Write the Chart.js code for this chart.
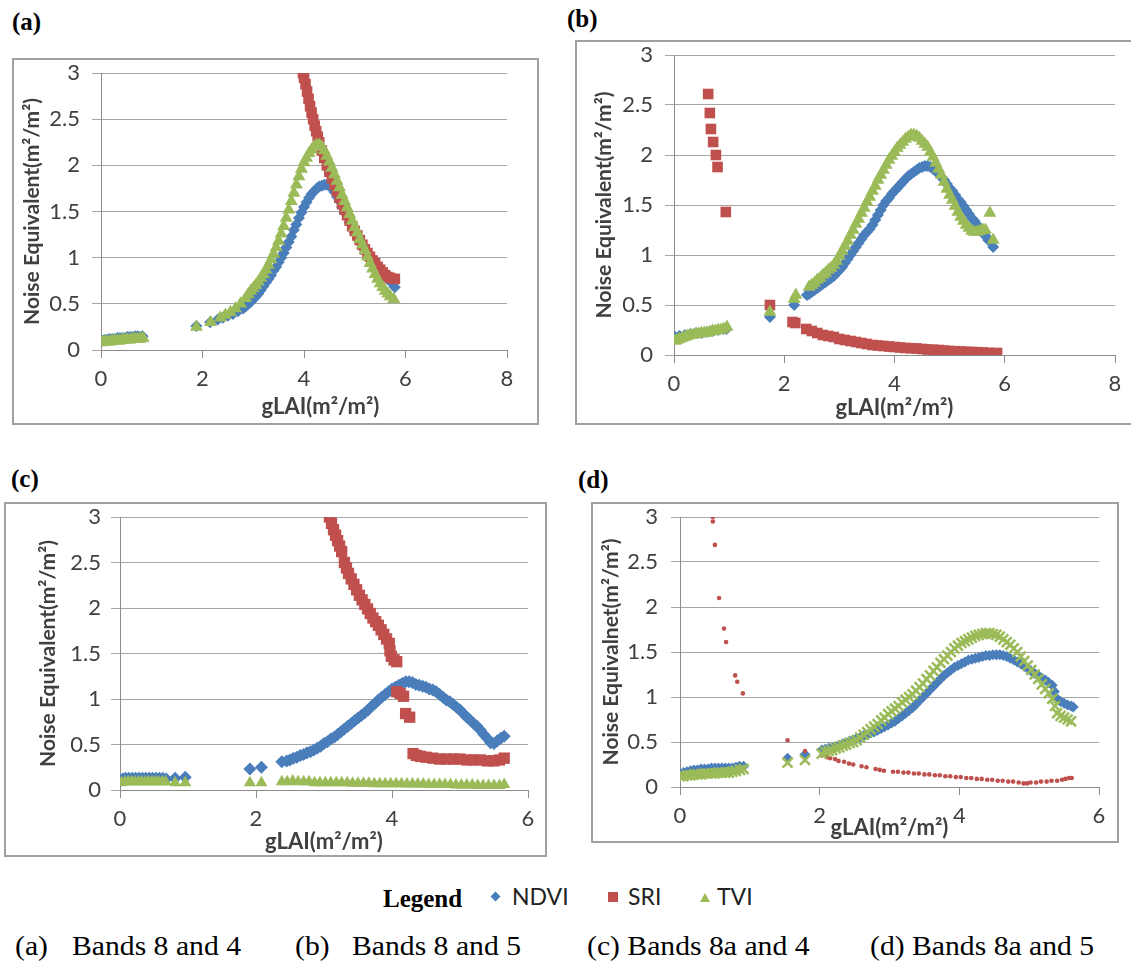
<!DOCTYPE html>
<html>
<head>
<meta charset="utf-8">
<script src="https://cdn.jsdelivr.net/npm/chart.js@4.4.1/dist/chart.umd.min.js"></script>
<style>
  body { margin: 0; width: 1131px; height: 964px; overflow: hidden; background: #fff; position: relative; }
  .frame { position: absolute; box-sizing: border-box; border: 2px solid #a0a0a0; background: #fff; }
  .frame canvas { position: absolute; left: 0; top: 0; }
  .plab { position: absolute; font: bold 25px "Liberation Serif", serif; line-height: 1; color: #000; }
  .cap { position: absolute; font: 28px "Liberation Serif", serif; line-height: 1; color: #000; white-space: pre; transform: scaleX(1.06); transform-origin: 0 0; }
  .leg { position: absolute; font: 23px Lato, sans-serif; line-height: 1; color: #222; }
  .legt { position: absolute; font: bold 25px "Liberation Serif", serif; line-height: 1; color: #000; }
  .mk { position: absolute; }
</style>
</head>
<body>

<div class="plab" style="left:12px;top:9px">(a)</div>
<div class="plab" style="left:567px;top:6px">(b)</div>
<div class="plab" style="left:11px;top:466px">(c)</div>
<div class="plab" style="left:578px;top:467px">(d)</div>

<div class="frame" style="left:12px;top:58px;width:527px;height:367px"><canvas id="chartA" width="523" height="363"></canvas></div>
<div class="frame" style="left:575px;top:40px;width:580px;height:385px"><canvas id="chartB" width="576" height="381"></canvas></div>
<div class="frame" style="left:4px;top:502px;width:543px;height:355px"><canvas id="chartC" width="539" height="351"></canvas></div>
<div class="frame" style="left:591px;top:502px;width:528px;height:341px"><canvas id="chartD" width="524" height="337"></canvas></div>

<!-- shared legend -->
<div class="legt" style="left:383px;top:886px">Legend</div>
<div class="mk" style="left:492px;top:893px;width:7px;height:7px;background:#4a7ebb;transform:rotate(45deg)"></div>
<div class="leg" style="left:512px;top:885px">NDVI</div>
<div class="mk" style="left:608px;top:892px;width:10px;height:10px;background:#c0504d"></div>
<div class="leg" style="left:628px;top:885px">SRI</div>
<div class="mk" style="left:700px;top:893px;width:0;height:0;border-left:5px solid transparent;border-right:5px solid transparent;border-bottom:9px solid #9bbb59"></div>
<div class="leg" style="left:717px;top:885px">TVI</div>

<div class="cap" style="left:15px;top:932px">(a)</div>
<div class="cap" style="left:72px;top:932px">Bands 8 and 4</div>
<div class="cap" style="left:295px;top:932px">(b)</div>
<div class="cap" style="left:352px;top:932px">Bands 8 and 5</div>
<div class="cap" style="left:587px;top:932px">(c) Bands 8a and 4</div>
<div class="cap" style="left:870px;top:932px">(d) Bands 8a and 5</div>

<script>
// ---- data: [gLAI, noise equivalent] ----
// (a) Bands 8 and 4
const ndviA = [
  [0.02,0.10],[0.07,0.11],[0.12,0.11],[0.17,0.12],[0.22,0.12],[0.27,0.12],[0.32,0.13],[0.37,0.13],[0.42,0.13],[0.47,0.13],[0.52,0.14],[0.57,0.14],[0.62,0.14],[0.67,0.15],[0.72,0.15],[0.77,0.14],[0.82,0.15],
  [1.88,0.26],[2.15,0.30],[2.3,0.33],[2.4,0.35],[2.5,0.37],[2.6,0.39],[2.7,0.42],[2.8,0.45],[2.85,0.47],[2.9,0.50],[2.95,0.52],[3.0,0.55],[3.05,0.58],[3.1,0.61],[3.15,0.65],[3.2,0.69],[3.25,0.73],[3.3,0.77],[3.35,0.81],[3.4,0.86],[3.45,0.90],[3.5,0.95],[3.55,1.00],[3.6,1.05],[3.65,1.11],[3.7,1.17],[3.75,1.23],[3.8,1.30],[3.85,1.36],[3.9,1.43],[3.95,1.49],[4.0,1.55],[4.05,1.60],[4.1,1.65],[4.15,1.69],[4.2,1.72],[4.25,1.75],[4.3,1.77],[4.35,1.78],[4.4,1.79],[4.45,1.79],[4.5,1.78],[4.55,1.75],[4.6,1.71],[4.65,1.66],[4.7,1.61],[4.75,1.55],[4.8,1.49],[4.9,1.38],[5.0,1.27],[5.1,1.17],[5.2,1.08],[5.3,1.00],[5.4,0.93],[5.5,0.86],[5.6,0.80],[5.7,0.74],[5.79,0.68]
];
const sriA = [
  [3.98,3.00],[4.0,2.95],[4.03,2.88],[4.06,2.80],[4.09,2.72],[4.12,2.64],[4.15,2.57],[4.18,2.50],[4.21,2.43],[4.24,2.37],[4.27,2.31],[4.3,2.25],[4.35,2.16],[4.4,2.08],[4.45,2.00],[4.5,1.93],[4.55,1.86],[4.6,1.79],[4.65,1.72],[4.7,1.65],[4.75,1.58],[4.8,1.52],[4.85,1.46],[4.9,1.40],[4.95,1.34],[5.0,1.29],[5.05,1.24],[5.1,1.19],[5.15,1.14],[5.2,1.09],[5.25,1.05],[5.3,1.01],[5.35,0.97],[5.4,0.94],[5.45,0.90],[5.5,0.87],[5.55,0.84],[5.6,0.81],[5.65,0.79],[5.7,0.78],[5.79,0.77]
];
const tviA = [
  [0.02,0.08],[0.07,0.09],[0.12,0.09],[0.17,0.09],[0.22,0.10],[0.27,0.10],[0.32,0.10],[0.37,0.10],[0.42,0.11],[0.47,0.11],[0.52,0.11],[0.57,0.11],[0.62,0.12],[0.67,0.12],[0.72,0.12],[0.77,0.12],[0.83,0.13],
  [1.88,0.25],[2.16,0.30],[2.35,0.35],[2.45,0.38],[2.55,0.41],[2.65,0.45],[2.75,0.50],[2.85,0.56],[2.9,0.60],[2.95,0.64],[3.0,0.67],[3.05,0.70],[3.1,0.74],[3.15,0.78],[3.2,0.82],[3.25,0.87],[3.3,0.92],[3.35,0.98],[3.4,1.04],[3.45,1.11],[3.5,1.18],[3.55,1.26],[3.6,1.34],[3.65,1.43],[3.7,1.52],[3.75,1.61],[3.8,1.70],[3.85,1.79],[3.9,1.88],[3.95,1.96],[4.0,2.03],[4.05,2.08],[4.1,2.13],[4.15,2.17],[4.2,2.20],[4.25,2.22],[4.3,2.22],[4.35,2.20],[4.4,2.16],[4.45,2.10],[4.5,2.04],[4.55,1.97],[4.6,1.90],[4.65,1.83],[4.7,1.76],[4.75,1.68],[4.8,1.61],[4.85,1.54],[4.9,1.47],[4.95,1.40],[5.0,1.33],[5.05,1.27],[5.1,1.20],[5.15,1.14],[5.2,1.08],[5.25,1.01],[5.3,0.94],[5.35,0.88],[5.4,0.82],[5.45,0.77],[5.5,0.72],[5.55,0.68],[5.6,0.64],[5.65,0.61],[5.7,0.58],[5.77,0.55]
];

// (b) Bands 8 and 5
const ndviB = [
  [0.02,0.18],[0.1,0.19],[0.2,0.20],[0.3,0.21],[0.4,0.22],[0.5,0.22],[0.6,0.23],[0.7,0.24],[0.8,0.25],[0.9,0.26],[0.95,0.26],
  [1.74,0.38],[2.18,0.50],
  [2.41,0.60],[2.45,0.61],[2.5,0.63],[2.55,0.65],[2.6,0.67],[2.65,0.69],[2.7,0.71],[2.75,0.73],[2.8,0.75],[2.85,0.77],[2.9,0.79],[2.95,0.82],[3.0,0.85],[3.05,0.88],[3.1,0.92],[3.15,0.96],[3.2,1.00],[3.25,1.04],[3.3,1.08],[3.35,1.12],[3.4,1.16],[3.45,1.20],[3.5,1.23],[3.55,1.26],[3.6,1.30],[3.65,1.35],[3.7,1.40],[3.75,1.45],[3.8,1.50],[3.85,1.54],[3.9,1.57],[3.95,1.61],[4.0,1.64],[4.05,1.67],[4.1,1.70],[4.15,1.73],[4.2,1.76],[4.25,1.79],[4.3,1.81],[4.35,1.83],[4.4,1.85],[4.45,1.87],[4.5,1.88],[4.55,1.89],[4.6,1.89],[4.65,1.88],[4.7,1.86],[4.75,1.84],[4.8,1.81],[4.85,1.78],[4.9,1.75],[4.95,1.71],[5.0,1.67],[5.05,1.64],[5.1,1.60],[5.15,1.56],[5.2,1.53],[5.25,1.49],[5.3,1.45],[5.35,1.41],[5.4,1.37],[5.45,1.34],[5.5,1.30],[5.55,1.27],[5.6,1.23],[5.65,1.19],[5.7,1.15],[5.79,1.08]
];
const sriB = [
  [0.62,2.61],[0.65,2.42],[0.67,2.26],[0.71,2.13],[0.76,2.00],[0.79,1.88],[0.94,1.43],[1.74,0.50],[2.15,0.33],[2.2,0.32],
  [2.4,0.26],[2.5,0.24],[2.6,0.22],[2.7,0.20],[2.8,0.19],[2.9,0.18],[3.0,0.16],[3.1,0.15],[3.2,0.14],[3.3,0.13],[3.4,0.12],[3.5,0.11],[3.6,0.10],[3.7,0.095],[3.8,0.09],[3.9,0.085],[4.0,0.08],[4.1,0.075],[4.2,0.07],[4.3,0.068],[4.4,0.065],[4.5,0.06],[4.6,0.055],[4.7,0.052],[4.8,0.05],[4.9,0.045],[5.0,0.04],[5.1,0.038],[5.2,0.035],[5.3,0.032],[5.4,0.03],[5.5,0.028],[5.6,0.025],[5.7,0.022],[5.86,0.02]
];
const tviB = [
  [0.02,0.14],[0.06,0.15],[0.1,0.16],[0.15,0.17],[0.2,0.18],[0.25,0.19],[0.3,0.20],[0.35,0.20],[0.4,0.21],[0.45,0.21],[0.5,0.22],[0.55,0.22],[0.6,0.22],[0.65,0.23],[0.7,0.24],[0.75,0.24],[0.8,0.25],[0.85,0.25],[0.9,0.26],[0.96,0.28],
  [1.74,0.43],[2.18,0.56],[2.21,0.60],
  [2.45,0.68],[2.5,0.70],[2.55,0.72],[2.6,0.75],[2.65,0.77],[2.7,0.80],[2.75,0.82],[2.8,0.85],[2.85,0.87],[2.9,0.90],[2.95,0.94],[3.0,0.99],[3.05,1.04],[3.1,1.09],[3.15,1.14],[3.2,1.20],[3.25,1.25],[3.3,1.31],[3.35,1.36],[3.4,1.42],[3.45,1.47],[3.5,1.53],[3.55,1.58],[3.6,1.64],[3.65,1.69],[3.7,1.75],[3.75,1.80],[3.8,1.85],[3.85,1.90],[3.9,1.95],[3.95,1.99],[4.0,2.03],[4.05,2.07],[4.1,2.10],[4.15,2.13],[4.2,2.16],[4.25,2.18],[4.3,2.20],[4.35,2.20],[4.4,2.19],[4.45,2.17],[4.5,2.14],[4.55,2.11],[4.6,2.08],[4.65,2.03],[4.7,1.98],[4.75,1.92],[4.8,1.86],[4.85,1.80],[4.9,1.73],[4.95,1.66],[5.0,1.60],[5.05,1.55],[5.1,1.49],[5.15,1.43],[5.2,1.38],[5.25,1.34],[5.3,1.30],[5.35,1.27],[5.4,1.24],[5.45,1.23],[5.5,1.23],[5.55,1.24],[5.6,1.25],[5.65,1.25],[5.73,1.42],[5.79,1.15]
];

// (c) Bands 8a and 4
const ndviC = [
  [0.0,0.10],[0.04,0.12],[0.08,0.13],[0.13,0.13],[0.18,0.13],[0.23,0.13],[0.28,0.13],[0.33,0.13],[0.38,0.13],[0.43,0.13],[0.48,0.13],[0.53,0.13],[0.58,0.13],[0.63,0.13],[0.68,0.12],[0.81,0.13],[0.96,0.14],
  [1.91,0.23],[2.08,0.25],
  [2.38,0.31],[2.45,0.32],[2.5,0.33],[2.55,0.35],[2.6,0.36],[2.65,0.38],[2.7,0.39],[2.75,0.41],[2.8,0.42],[2.85,0.44],[2.9,0.46],[2.95,0.48],[3.0,0.51],[3.05,0.53],[3.1,0.56],[3.15,0.58],[3.2,0.61],[3.25,0.64],[3.3,0.67],[3.35,0.70],[3.4,0.73],[3.45,0.76],[3.5,0.79],[3.55,0.82],[3.6,0.85],[3.65,0.88],[3.7,0.92],[3.75,0.95],[3.8,0.99],[3.85,1.02],[3.9,1.05],[3.95,1.08],[4.0,1.11],[4.05,1.13],[4.1,1.15],[4.15,1.17],[4.2,1.19],[4.25,1.19],[4.3,1.18],[4.35,1.16],[4.4,1.15],[4.45,1.14],[4.5,1.13],[4.55,1.11],[4.6,1.10],[4.65,1.08],[4.7,1.05],[4.75,1.02],[4.8,0.99],[4.85,0.97],[4.9,0.94],[4.95,0.91],[5.0,0.88],[5.05,0.84],[5.1,0.80],[5.15,0.77],[5.2,0.73],[5.25,0.70],[5.3,0.66],[5.35,0.61],[5.4,0.57],[5.45,0.52],[5.5,0.51],[5.55,0.54],[5.6,0.57],[5.65,0.59]
];
const sriC = [
  [3.08,3.00],[3.11,2.93],[3.14,2.86],[3.17,2.80],[3.2,2.74],[3.23,2.68],[3.26,2.62],[3.3,2.50],[3.33,2.44],[3.36,2.38],[3.4,2.32],[3.44,2.26],[3.48,2.20],[3.52,2.14],[3.56,2.09],[3.6,2.04],[3.64,1.99],[3.68,1.94],[3.72,1.89],[3.76,1.85],[3.8,1.81],[3.84,1.76],[3.88,1.71],[3.92,1.66],[3.96,1.61],[3.97,1.53],[3.99,1.47],[4.03,1.43],[4.07,1.41],
  [4.07,1.08],[4.12,1.06],[4.17,1.03],[4.2,0.84],[4.26,0.80],
  [4.31,0.40],[4.36,0.38],[4.42,0.37],[4.5,0.36],[4.6,0.35],[4.7,0.34],[4.8,0.34],[4.9,0.34],[5.0,0.34],[5.1,0.33],[5.2,0.33],[5.3,0.33],[5.4,0.32],[5.5,0.32],[5.58,0.33],[5.65,0.35]
];
const tviC = [
  [0.02,0.08],[0.07,0.09],[0.12,0.09],[0.17,0.09],[0.22,0.09],[0.27,0.09],[0.32,0.09],[0.37,0.09],[0.42,0.09],[0.47,0.09],[0.52,0.09],[0.57,0.09],[0.62,0.09],[0.67,0.09],[0.81,0.08],[0.96,0.08],[1.91,0.08],[2.08,0.08],
  [2.38,0.09],[2.46,0.09],[2.54,0.10],[2.62,0.09],[2.7,0.09],[2.78,0.09],[2.86,0.08],[2.94,0.08],[3.02,0.08],[3.1,0.08],[3.18,0.08],[3.26,0.08],[3.34,0.08],[3.42,0.075],[3.5,0.075],[3.58,0.075],[3.66,0.075],[3.74,0.07],[3.82,0.07],[3.9,0.07],[3.98,0.07],[4.06,0.07],[4.14,0.07],[4.22,0.065],[4.3,0.065],[4.38,0.065],[4.46,0.065],[4.54,0.06],[4.62,0.06],[4.7,0.06],[4.78,0.06],[4.86,0.06],[4.94,0.055],[5.02,0.055],[5.1,0.055],[5.18,0.055],[5.26,0.05],[5.34,0.05],[5.42,0.05],[5.5,0.05],[5.58,0.05],[5.65,0.06]
];

// (d) Bands 8a and 5
const ndviD = [
  [0.0,0.15],[0.05,0.16],[0.1,0.17],[0.15,0.18],[0.2,0.19],[0.25,0.19],[0.3,0.20],[0.35,0.20],[0.4,0.20],[0.45,0.21],[0.5,0.21],[0.55,0.21],[0.6,0.21],[0.65,0.21],[0.7,0.21],[0.75,0.21],[0.8,0.22],[0.85,0.23],[0.91,0.23],
  [1.54,0.32],[1.79,0.36],
  [2.03,0.41],[2.08,0.42],[2.13,0.43],[2.18,0.44],[2.23,0.45],[2.28,0.46],[2.33,0.48],[2.38,0.49],[2.43,0.51],[2.48,0.52],[2.53,0.54],[2.58,0.55],[2.63,0.57],[2.68,0.58],[2.73,0.60],[2.78,0.61],[2.83,0.63],[2.88,0.65],[2.93,0.67],[2.98,0.69],[3.03,0.71],[3.08,0.73],[3.13,0.76],[3.18,0.79],[3.23,0.82],[3.28,0.85],[3.33,0.88],[3.38,0.92],[3.43,0.96],[3.48,1.00],[3.53,1.04],[3.58,1.08],[3.63,1.12],[3.68,1.16],[3.73,1.20],[3.78,1.24],[3.83,1.27],[3.88,1.30],[3.93,1.33],[3.98,1.35],[4.03,1.37],[4.08,1.39],[4.13,1.41],[4.18,1.42],[4.23,1.43],[4.28,1.44],[4.33,1.45],[4.38,1.46],[4.43,1.46],[4.48,1.47],[4.53,1.47],[4.58,1.47],[4.63,1.46],[4.68,1.45],[4.73,1.43],[4.78,1.41],[4.83,1.39],[4.88,1.37],[4.93,1.34],[4.98,1.32],[5.03,1.29],[5.08,1.26],[5.13,1.24],[5.18,1.21],[5.23,1.19],[5.28,1.16],[5.33,1.13],[5.36,1.06],[5.4,0.98],[5.45,0.95],[5.5,0.93],[5.55,0.91],[5.6,0.90],[5.63,0.89]
];
const sriD = [
  [0.47,3.00],[0.47,2.95],[0.5,2.69],[0.56,2.10],[0.63,1.76],[0.66,1.61],[0.79,1.24],[0.82,1.17],[0.9,1.04],[1.54,0.52],[1.79,0.40],
  [2.03,0.35],[2.1,0.33],[2.15,0.32],[2.22,0.31],[2.27,0.29],[2.35,0.28],[2.42,0.26],[2.48,0.25],[2.6,0.23],[2.67,0.22],[2.8,0.20],[2.86,0.19],[2.92,0.18],[3.05,0.17],[3.12,0.17],[3.2,0.16],[3.27,0.16],[3.35,0.15],[3.42,0.15],[3.5,0.14],[3.57,0.14],[3.65,0.13],[3.72,0.13],[3.8,0.12],[3.87,0.12],[3.95,0.11],[4.02,0.11],[4.1,0.10],[4.17,0.10],[4.25,0.09],[4.32,0.09],[4.4,0.08],[4.47,0.08],[4.55,0.07],[4.62,0.07],[4.7,0.06],[4.77,0.06],[4.85,0.05],[4.92,0.04],[4.97,0.04],[5.02,0.05],[5.1,0.05],[5.17,0.06],[5.25,0.06],[5.32,0.07],[5.4,0.07],[5.47,0.08],[5.52,0.09],[5.57,0.10],[5.61,0.10]
];
const tviD = [
  [0.0,0.12],[0.05,0.12],[0.1,0.13],[0.15,0.13],[0.2,0.14],[0.25,0.14],[0.3,0.14],[0.35,0.15],[0.4,0.15],[0.45,0.15],[0.5,0.15],[0.55,0.16],[0.6,0.16],[0.65,0.16],[0.7,0.16],[0.75,0.17],[0.8,0.18],[0.86,0.19],[0.91,0.20],
  [1.54,0.27],[1.79,0.30],
  [2.03,0.37],[2.08,0.39],[2.13,0.40],[2.18,0.41],[2.23,0.43],[2.28,0.44],[2.33,0.46],[2.38,0.47],[2.43,0.49],[2.48,0.50],[2.53,0.52],[2.58,0.55],[2.63,0.58],[2.68,0.61],[2.73,0.64],[2.78,0.67],[2.83,0.70],[2.88,0.74],[2.93,0.77],[2.98,0.81],[3.03,0.84],[3.08,0.87],[3.13,0.90],[3.18,0.94],[3.23,0.97],[3.28,1.00],[3.33,1.03],[3.38,1.07],[3.43,1.11],[3.48,1.15],[3.53,1.20],[3.58,1.24],[3.63,1.29],[3.68,1.33],[3.73,1.38],[3.78,1.42],[3.83,1.46],[3.88,1.50],[3.93,1.54],[3.98,1.57],[4.03,1.60],[4.08,1.62],[4.13,1.64],[4.18,1.66],[4.23,1.68],[4.28,1.69],[4.33,1.70],[4.38,1.71],[4.43,1.71],[4.48,1.70],[4.53,1.69],[4.58,1.67],[4.63,1.64],[4.68,1.61],[4.73,1.58],[4.78,1.54],[4.83,1.50],[4.88,1.45],[4.93,1.40],[4.98,1.35],[5.03,1.30],[5.08,1.25],[5.13,1.20],[5.18,1.14],[5.23,1.09],[5.28,1.04],[5.33,0.98],[5.37,0.90],[5.4,0.82],[5.45,0.79],[5.5,0.77],[5.55,0.75],[5.6,0.73]
];

const xTitle = 'gLAI(m\u00B2/m\u00B2)';
const yTitle = 'Noise Equivalent(m\u00B2/m\u00B2)';
const yTitleD = 'Noise Equivalnet(m\u00B2/m\u00B2)';

const BLUE = '#4a7ebb';
const RED = '#c0504d';
const GREEN = '#9bbb59';

Chart.defaults.font.family = 'Lato';

function toXY(arr) {
  return arr.map(function(p) { return { x: p[0], y: p[1] }; });
}

// one panel: geometry in pixels inside the frame
function drawPanel(id, g, sets) {
  const ctx = document.getElementById(id).getContext('2d');
  return new Chart(ctx, {
    type: 'scatter',
    data: { datasets: sets },
    options: {
      responsive: false,
      animation: false,
      devicePixelRatio: 1,
      events: [],
      layout: { padding: { left: 0, top: g.top, right: g.right, bottom: 0 } },
      plugins: { legend: { display: false }, tooltip: { enabled: false } },
      scales: {
        x: {
          type: 'linear', min: 0, max: g.xMax,
          ticks: { stepSize: 2, color: '#404040', font: { size: 22 }, padding: 8 },
          grid: { drawOnChartArea: false, drawTicks: true, tickLength: 8, color: '#8c8c8c' },
          border: { color: '#8c8c8c', width: 1 },
          title: { display: true, text: g.xText || xTitle, color: '#404040', font: { size: 22, weight: 'bold' }, padding: { top: 0, bottom: g.xtPad } },
          afterFit: function(s) { s.height = g.bottom; }
        },
        y: {
          type: 'linear', min: 0, max: 3,
          ticks: {
            stepSize: 0.5, color: '#404040', font: { size: 22 }, padding: g.ytkPad,
            callback: function(v) { return String(Math.round(v * 10) / 10); }
          },
          grid: { color: '#a6a6a6', tickLength: 9 },
          border: { color: '#8c8c8c', width: 1 },
          title: { display: true, text: g.yText, color: '#404040', font: { size: 21, weight: 'bold' }, padding: { top: g.ytPad, bottom: 0 } },
          afterFit: function(s) { s.width = g.left; s.paddingTop = 0; s.paddingBottom = 0; }
        }
      }
    }
  });
}

function ndviSet(d, r) {
  return { label: 'NDVI', data: toXY(d), pointStyle: 'rectRot', pointRadius: r, backgroundColor: BLUE, borderColor: BLUE, borderWidth: 0, order: 3 };
}
function sriSet(d, r, style) {
  return { label: 'SRI', data: toXY(d), pointStyle: style || 'rect', pointRadius: r, backgroundColor: RED, borderColor: RED, borderWidth: 0, order: 2 };
}
function tviSet(d, r, style) {
  const cross = style === 'crossRot';
  return { label: 'TVI', data: toXY(d), pointStyle: style || 'triangle', pointRadius: r, backgroundColor: GREEN, borderColor: GREEN, borderWidth: cross ? 2.5 : 0, order: 1 };
}

// panel (a) title sits a little right of the plot centre in the original
drawPanel('chartA', { xMax: 8, left: 87, top: 13, right: 30, bottom: 73, xtPad: 3, ytPad: 6, ytkPad: 12, yText: yTitle, xText: '\u2003\u2003' + xTitle },
  [ndviSet(ndviA, 6), sriSet(sriA, 7.5), tviSet(tviA, 7.5)]);

drawPanel('chartB', { xMax: 8, left: 97, top: 13, right: 38, bottom: 68, xtPad: 2, ytPad: 15, ytkPad: 12, yText: yTitle },
  [ndviSet(ndviB, 6), sriSet(sriB, 7.5), tviSet(tviB, 7.5)]);

drawPanel('chartC', { xMax: 6, left: 114, top: 13, right: 17, bottom: 65, xtPad: 0, ytPad: 30, ytkPad: 10, yText: yTitle },
  [ndviSet(ndviC, 6.5), sriSet(sriC, 8), tviSet(tviC, 7)]);

drawPanel('chartD', { xMax: 6, left: 87, top: 13, right: 18, bottom: 54, xtPad: 0, ytPad: 6, ytkPad: 13, yText: yTitleD },
  [ndviSet(ndviD, 5.5), sriSet(sriD, 2.3, 'circle'), tviSet(tviD, 7, 'crossRot')]);
</script>
</body>
</html>
